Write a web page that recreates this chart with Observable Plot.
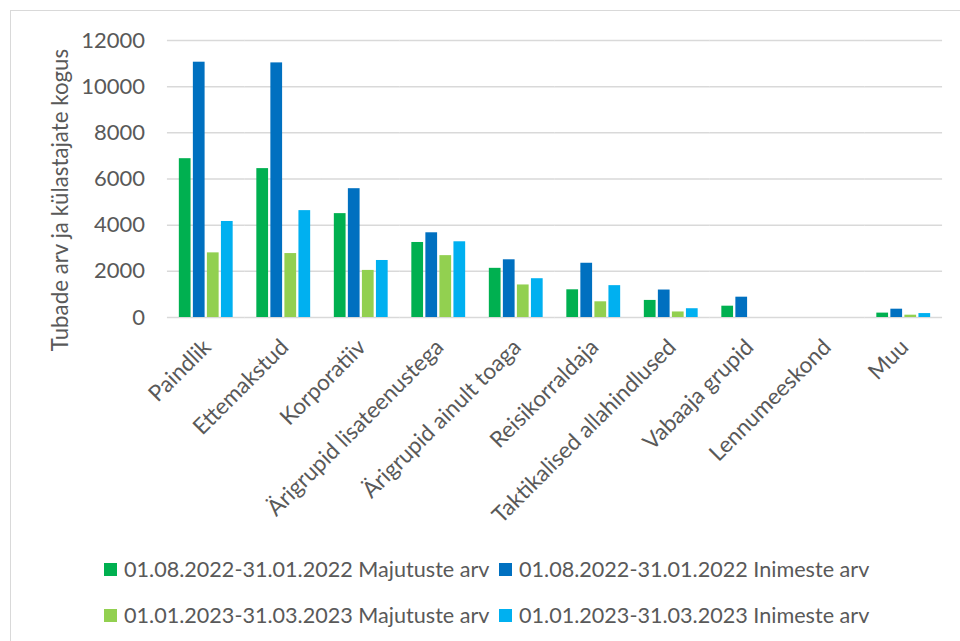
<!DOCTYPE html>
<html>
<head>
<meta charset="utf-8">
<script src="https://cdn.jsdelivr.net/npm/d3@7"></script>
<script src="https://cdn.jsdelivr.net/npm/@observablehq/plot@0.6"></script>
<style>
  html, body { margin: 0; padding: 0; background: #ffffff; }
  #wrap { position: relative; width: 960px; height: 641px; overflow: hidden; font-family: Lato, sans-serif; color: #595959; }
  #border { position: absolute; left: 10px; top: 10px; width: 980px; height: 680px; border: 1.5px solid #d9d9d9; box-sizing: border-box; }
  #chart { position: absolute; left: 0; top: 0; }
  #ytitle { position: absolute; left: 60px; top: 200px; transform: translate(-50%, -50%) rotate(-90deg); white-space: nowrap; font-size: 22.3px; line-height: 1; }
  #legend { position: absolute; left: 104px; top: 559px; display: grid; grid-template-columns: 395px auto; row-gap: 26px; font-size: 21.6px; }
  .item { display: flex; align-items: center; height: 20px; white-space: nowrap; }
  .sw { width: 13px; height: 13px; margin-right: 7px; flex: none; }
</style>
</head>
<body>
<div id="wrap">
  <div id="border"></div>
  <div id="chart"></div>
  <div id="ytitle">Tubade arv ja külastajate kogus</div>
  <div id="legend"></div>
</div>
<script>
const categories = ["Paindlik", "Ettemakstud", "Korporatiiv", "Ärigrupid lisateenustega", "Ärigrupid ainult toaga", "Reisikorraldaja", "Taktikalised allahindlused", "Vabaaja grupid", "Lennumeeskond", "Muu"];
const seriesNames = ["01.08.2022-31.01.2022 Majutuste arv", "01.08.2022-31.01.2022 Inimeste arv", "01.01.2023-31.03.2023 Majutuste arv", "01.01.2023-31.03.2023 Inimeste arv"];
const majutused2022 = [6880, 6450, 4500, 3250, 2130, 1200, 740, 490, 0, 190];
const inimesed2022 = [11060, 11030, 5580, 3670, 2500, 2350, 1190, 880, 0, 360];
const majutused2023 = [2800, 2770, 2040, 2680, 1410, 680, 240, 0, 0, 100];
const inimesed2023 = [4160, 4630, 2470, 3280, 1680, 1380, 380, 0, 0, 170];
const yTicks = [0, 2000, 4000, 6000, 8000, 10000, 12000];
const colors = ["#00B050", "#0070C0", "#92D050", "#00B0F0"];

const seriesValues = [majutused2022, inimesed2022, majutused2023, inimesed2023];
const rows = [];
categories.forEach((cat, i) => {
  seriesNames.forEach((s, j) => rows.push({cat, series: s, value: seriesValues[j][i]}));
});

const chart = Plot.plot({
  width: 960,
  height: 545,
  marginLeft: 167,
  marginRight: 18,
  marginTop: 40,
  marginBottom: 228,
  style: {fontFamily: "Lato, sans-serif", color: "#595959", background: "transparent", overflow: "visible"},
  fx: {domain: categories, paddingInner: 0.246, paddingOuter: 0.123, round: false, axis: null, label: null},
  x: {domain: seriesNames, padding: 0.164, round: false, axis: null, label: null},
  y: {domain: [0, 12000], label: null},
  color: {domain: seriesNames, range: colors},
  marks: [
    Plot.ruleY(yTicks, {y: d => d, stroke: "#d9d9d9", strokeWidth: 1.5, insetLeft: -9.6, insetRight: -9.6}),
    Plot.barY(rows, {fx: "cat", x: "series", y: "value", fill: "series"}),
    Plot.axisY({ticks: yTicks, tickSize: 0, tickPadding: 32, fontSize: 22, tickFormat: d => String(d), label: null}),
    Plot.text(categories, {fx: d => d, text: d => d, frameAnchor: "bottom", rotate: -45, textAnchor: "end", lineAnchor: "middle", dx: 1, dy: 26, fontSize: 22.5, fill: "#595959"})
  ]
});
document.getElementById("chart").appendChild(chart);

const legend = document.getElementById("legend");
seriesNames.forEach((s, j) => {
  const item = document.createElement("div");
  item.className = "item";
  const sw = document.createElement("span");
  sw.className = "sw";
  sw.style.background = colors[j];
  const t = document.createElement("span");
  t.textContent = s;
  item.appendChild(sw);
  item.appendChild(t);
  legend.appendChild(item);
});
</script>
</body>
</html>
